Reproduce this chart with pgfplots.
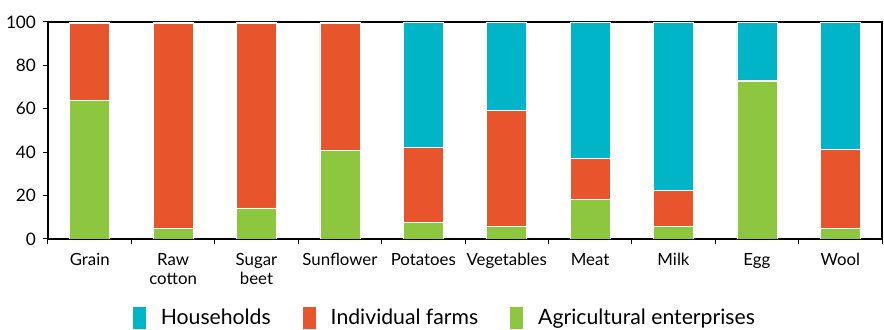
\documentclass[border=0pt]{standalone}
\usepackage{pgfplots}
\pgfplotsset{compat=1.18}
\usepackage{fontspec}
\setmainfont{Lato}
\definecolor{cHH}{HTML}{00B5C8}
\definecolor{cIF}{HTML}{E8542C}
\definecolor{cAE}{HTML}{8DC63F}
\begin{document}
\begin{tikzpicture}
\begin{axis}[
  scale only axis,
  width=417pt, height=108.5pt,
  ybar stacked, bar width=20pt,
  xmin=-0.5, xmax=9.5, ymin=0, ymax=100,
  xtick={0,...,9},
  xticklabels={Grain,{Raw\\cotton},{Sugar\\beet},Sunflower,Potatoes,Vegetables,Meat,Milk,Egg,Wool},
  xticklabel style={align=center, font=\fontsize{8.4}{9.5}\selectfont, yshift=-1pt},
  major x tick style={draw=none},
  minor xtick={-0.5,0.5,...,9.5},
  minor tick length=2.5pt,
  ytick={0,20,...,100},
  yticklabel style={font=\fontsize{8.6}{10}\selectfont},
  /pgf/number format/assume math mode=true,
  tick align=outside,
  major tick length=2.5pt,
  xtick pos=bottom, ytick pos=left,
  axis line style={line width=0.6pt},
  every tick/.style={black, line width=0.5pt},
  reverse legend,
  legend columns=-1,
  legend style={draw=none, at={(axis description cs:0.477,-0.364)}, anchor=center,
    font=\fontsize{10.6}{13}\selectfont,
    /tikz/every odd column/.append style={column sep=5.5pt},
    /tikz/every even column/.append style={column sep=14pt}},
  legend image code/.code={\fill[#1,draw=none] (0pt,-5.5pt) rectangle (6.5pt,5.5pt);},
  every axis plot/.append style={draw=white, line width=0.3pt},
]
\addplot[fill=cAE] coordinates {(0,64.1) (1,5.0) (2,14.3) (3,40.8) (4,7.6) (5,5.8) (6,18.1) (7,5.8) (8,72.8) (9,4.7)};
\addplot[fill=cIF] coordinates {(0,35.1) (1,94.5) (2,85.2) (3,58.7) (4,34.6) (5,53.4) (6,19.2) (7,16.6) (8,0.5) (9,36.7)};
\addplot[fill=cHH] coordinates {(0,0.8) (1,0.5) (2,0.5) (3,0.5) (4,57.8) (5,40.8) (6,62.7) (7,77.6) (8,26.7) (9,58.6)};
\legend{Agricultural enterprises, Individual farms, Households}
\coordinate (ll) at (rel axis cs:0,0);
\coordinate (ur) at (rel axis cs:1,1);
\end{axis}
\pgfresetboundingbox
\path[use as bounding box] ([xshift=-24pt,yshift=-45.5pt]ll) rectangle ([xshift=1pt,yshift=11pt]ur);
\end{tikzpicture}
\end{document}
